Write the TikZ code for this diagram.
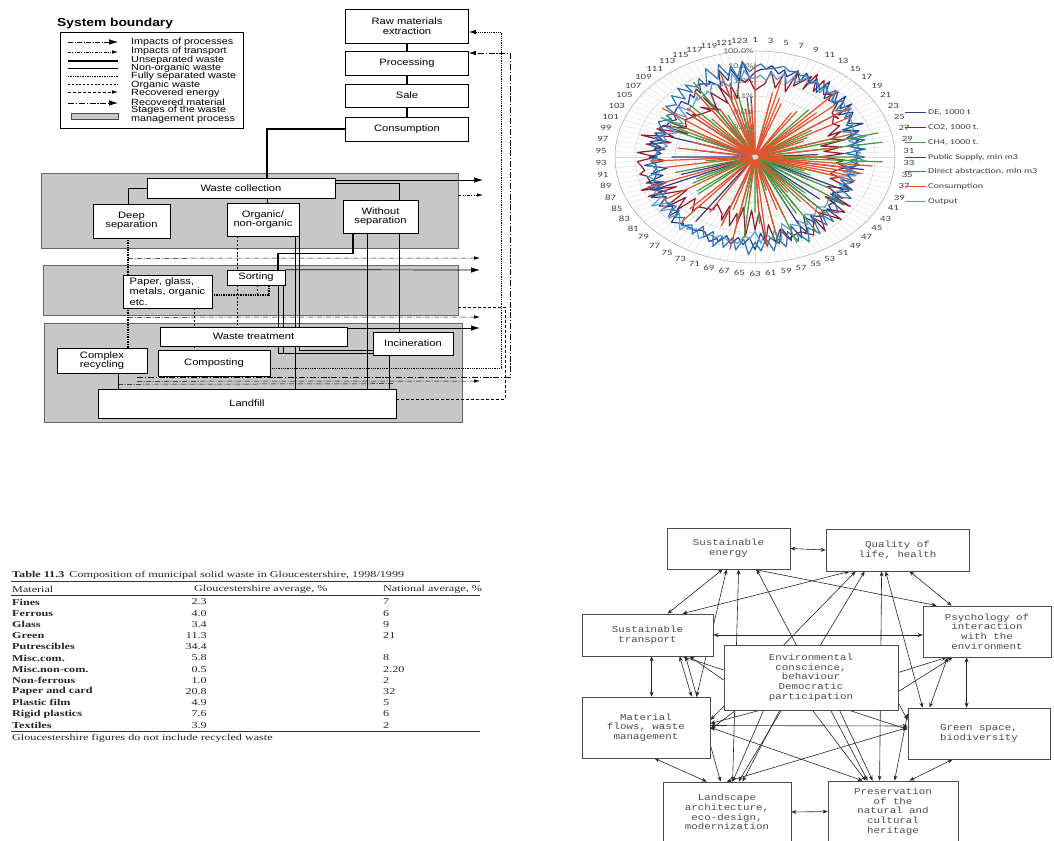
\documentclass[tikz,border=0pt]{standalone}
\usepackage{fontspec}
\usetikzlibrary{arrows.meta,calc}
\newfontfamily\sansA[FakeStretch=1.2]{Liberation Sans}
\newfontfamily\serifT[FakeStretch=1.35]{Liberation Serif}
\newfontfamily\monoM[FakeStretch=1.2]{Liberation Mono}
\newfontfamily\calib[FakeStretch=1.35]{Carlito}
\pgfdeclarelayer{bg}\pgfdeclarelayer{lines}\pgfsetlayers{bg,lines,main}
\definecolor{cDA}{RGB}{46,117,182}
\definecolor{cOut}{RGB}{91,155,213}
\definecolor{cDE}{RGB}{38,64,130}
\definecolor{cCO2}{RGB}{140,30,45}
\definecolor{cPS}{RGB}{60,58,140}
\definecolor{cCH4}{RGB}{70,155,60}
\definecolor{cCons}{RGB}{229,83,45}
\tikzset{
 wbox/.style={draw, line width=0.6pt, fill=white, inner sep=0pt, align=center, font=\sansA\fontsize{9.3}{9.5}\selectfont},
 stagebox/.style={draw=black!60, fill=black!22, line width=0.5pt, inner sep=0pt},
 legtext/.style={anchor=west, inner sep=0pt, font=\sansA\fontsize{9}{9}\selectfont},
 unsep/.style={line width=1.6pt},
 nonorg/.style={line width=0.7pt},
 fullsep/.style={line width=1.3pt, dash pattern=on 0.9pt off 0.8pt},
 orgw/.style={line width=0.6pt, dash pattern=on 2pt off 1.8pt},
 renergy/.style={line width=0.6pt, dash pattern=on 3pt off 2pt},
 rmat/.style={line width=0.7pt, dash pattern=on 6pt off 1.8pt on 1.2pt off 1.8pt},
 impproc/.style={line width=0.5pt, dash pattern=on 5pt off 1.5pt on 1pt off 1.5pt},
 imptrans/.style={line width=0.5pt, dash pattern=on 3pt off 1.3pt on 1pt off 1.3pt on 1pt off 1.3pt},
 bigtip/.style={-{Latex[length=9pt,width=5.5pt]}},
 smalltip/.style={-{Latex[length=6pt,width=3.5pt]}},
 cbox/.style={draw=black!70, line width=0.8pt, fill=white, align=center, inner sep=0pt, text=black!70, font=\monoM\fontsize{9}{9.7}\selectfont},
 biarr/.style={{Stealth[length=5pt,width=4pt]}-{Stealth[length=5pt,width=4pt]}, line width=0.6pt, black!85},
 onearr/.style={-{Stealth[length=5pt,width=4pt]}, line width=0.6pt, black!85},
 tabtext/.style={inner sep=0pt, text=black!85, font=\serifT\fontsize{9}{9}\selectfont},
 radlab/.style={inner sep=0pt, text=black!75, font=\calib\fontsize{8}{8}\selectfont},
 series/.style={line width=1.2pt, line join=round}
}
\begin{document}
\begin{tikzpicture}[x=1pt,y=-1pt]
\useasboundingbox (0,0) rectangle (1054,840);
\begin{pgfonlayer}{bg}
\fill[white] (0,0) rectangle (1054,840);
\node[stagebox, minimum width=417, minimum height=75] (st1) at (249.5,210.5) {};
\node[stagebox, minimum width=415, minimum height=50] (st2) at (250.5,290) {};
\node[stagebox, minimum width=418, minimum height=99] (st3) at (253,372.5) {};
\end{pgfonlayer}

% ---------- Panel 1: legend ----------
\node[anchor=west, inner sep=0pt, font=\sansA\bfseries\fontsize{11.5}{12}\selectfont] (sysb) at (57,24) {System boundary};
\node[draw, line width=0.6pt, minimum width=183, minimum height=96, inner sep=0pt] (leg) at (151.5,80) {};
\foreach \yy/\tt in {42/Impacts of processes, 51.5/Impacts of transport, 60/Unseparated waste, 68.5/Non-organic waste, 76.5/Fully separated waste, 85/Organic waste, 93/Recovered energy, 102.5/Recovered material, 110.5/Stages of the waste, 119.5/management process}
  \node[legtext] at (131,\yy) {\tt};
\draw[impproc, bigtip] (68,42) -- (118,42);
\draw[imptrans, smalltip] (68,52) -- (118,52);
\draw[unsep] (68,61) -- (118,61);
\draw[nonorg] (68,68) -- (118,68);
\draw[fullsep] (68,76.5) -- (118,76.5);
\draw[orgw] (68,84) -- (118,84);
\draw[renergy, smalltip] (68,92) -- (118,92);
\draw[rmat, bigtip] (68,103) -- (118,103);
\draw[fill=black!22, draw=black!70, line width=0.5pt] (71,113) rectangle (118,119);

% ---------- Panel 1: boxes ----------
\node[wbox, minimum width=123, minimum height=34] (raw) at (407,26) {Raw materials\\extraction};
\node[wbox, minimum width=123, minimum height=24] (proc) at (407,63) {Processing};
\node[wbox, minimum width=123, minimum height=23] (sale) at (407,95.5) {Sale};
\node[wbox, minimum width=123, minimum height=24] (cons) at (407,129) {Consumption};
\node[wbox, minimum width=188, minimum height=20] (wc) at (241,188) {Waste collection};
\node[wbox, minimum width=77, minimum height=34] (deep) at (131.5,221) {Deep\\separation};
\node[wbox, minimum width=72, minimum height=33] (orgn) at (263,219.5) {Organic/\\non-organic};
\node[wbox, minimum width=75, minimum height=33] (wos) at (380.5,216.5) {Without\\separation};
\node[wbox, minimum width=58, minimum height=15] (sort) at (256,277.5) {Sorting};
\node[wbox, minimum width=89, minimum height=33, align=left, font=\sansA\fontsize{9.3}{10.5}\selectfont] (paper) at (167.5,291.5) {Paper, glass,\\metals, organic\\etc.};
\node[wbox, minimum width=187, minimum height=19] (wt) at (253.5,336.5) {Waste treatment};
\node[wbox, minimum width=80, minimum height=23] (inc) at (413,343.5) {Incineration};
\node[wbox, minimum width=90, minimum height=25] (crec) at (102,360.5) {Complex\\recycling};
\node[wbox, minimum width=112, minimum height=26] (comp) at (214,363) {Composting};
\node[wbox, minimum width=298, minimum height=29] (land) at (247,403.5) {Landfill};

\coordinate (e1) at (483,180);
\coordinate (e2) at (483,195);
\coordinate (e3) at (480,258);
\coordinate (e4) at (480,270);
\coordinate (e6) at (480,317);
\coordinate (e5) at (480,328);
\coordinate (e7) at (480,381);
\coordinate (v1) at (501,32);
\coordinate (v2) at (510,53);
\coordinate (v3) at (505,307);

\begin{pgfonlayer}{lines}
\draw[unsep] (raw.south) -- (proc.north);
\draw[unsep] (proc.south) -- (sale.north);
\draw[unsep] (sale.south) -- (cons.north);
\draw[unsep] (cons.west) -| ([xshift=26]wc.north);
\draw[nonorg] ([xshift=26]wc.south) -- ([xshift=4]orgn.north);
\draw[nonorg] (wc.west) -| ([xshift=-3.5]deep.north);
\draw[nonorg] ([yshift=5]wc.east) -| ([xshift=18.5]wos.north);
\draw[unsep] ([xshift=-27.5]wos.south) -- ++(0,20) -| ([xshift=22]sort.north);
\draw[fullsep] ([xshift=-3.5]deep.south) -- ([xshift=-39.5]paper.north);
\draw[fullsep] ([xshift=-39.5]paper.south) -- ([xshift=26]crec.north);
\draw[fullsep] ([yshift=-3.5]paper.east) -| ([xshift=13]sort.south);
\draw[orgw] ([xshift=-26]orgn.south) -- ([xshift=-19]sort.north);
\draw[orgw] ([xshift=-19]sort.south) -- ([xshift=-16.5]wt.north);
\draw[orgw] ([xshift=1]sort.south) -- ([xshift=1,yshift=-10]sort.south);
\draw[orgw] ([xshift=26.5]paper.south) -- ([xshift=-59.5]wt.north);
\draw[orgw] ([xshift=-59.5]wt.south) -- ([xshift=-20]comp.north);
\draw[nonorg] ([xshift=36]orgn.south) |- ([yshift=-6.5]inc.west);
\draw[nonorg] ([xshift=27]sort.south) |- ([yshift=-9.5]inc.west);
\draw[nonorg] ([xshift=22]sort.south) |- ([yshift=-9.5]inc.west);
\draw[nonorg] ([xshift=32]orgn.south) -- ([xshift=48]land.north);
\draw[nonorg] ([xshift=-13.5]wos.south) -- ([xshift=120]land.north);
\draw[nonorg] ([xshift=18.5]wos.south) -- ([xshift=-14]inc.north);
\draw[nonorg] ([xshift=-24]inc.south) -- ([xshift=142]land.north);
\draw[nonorg] ([xshift=16]crec.south) -- ([xshift=-129]land.north);
\draw[nonorg, bigtip] ([yshift=8]wc.east) -- (e1);
\draw[imptrans, smalltip] ([yshift=15.5]st1.east) -- (e2);
\draw[impproc, smalltip] ([xshift=-3.5,yshift=-20]deep.south) -- (e3);
\draw[nonorg, bigtip] (sort.north east) -- (e4);
\draw[impproc, smalltip] ([xshift=-39.5,yshift=-9]paper.south) -- (e6);
\draw[nonorg, bigtip] ([yshift=8.5]wt.east) -- (e5);
\draw[impproc, smalltip] ([xshift=35,yshift=-8]crec.south) -- (e7);
\draw[line width=0.9pt, dash pattern=on 0.9pt off 0.9pt, -{Latex[length=7pt,width=4.5pt]}] ([yshift=-5]comp.east) -| (v1) -- ([yshift=-6]raw.east);
\draw[rmat, -{Latex[length=7pt,width=4.5pt]}] ([xshift=35,yshift=-4]crec.south) -| (v2) -- ([yshift=10]proc.east);
\draw[renergy] ([yshift=4.5]land.east) -| (v3) -- ([yshift=-17]st2.east);
\draw[impproc] ([xshift=16,yshift=-11]crec.south) -- ([xshift=146,yshift=5]land.north);
\end{pgfonlayer}

% ---------- Panel 2: radar ----------
\begin{scope}[shift={(755,157)}, x=140pt, y=106pt]
  \foreach \k in {0,...,123} \draw[black!14, line width=0.3pt] (0,0) -- ({90-\k*2.903226}:1);
  \foreach \i in {1,...,6} \draw[black!20, line width=0.4pt] (0,0) circle [x radius=\i/7, y radius=\i/7];
  \draw[black!35, line width=0.5pt] (0,0) circle [x radius=1, y radius=1];
  \foreach \k in {1,3,...,123} \node[radlab] at ({90-(\k-1)*2.903226}:1.1) {\k};
  \foreach \i/\lab in {0/{0.0\%},1/{0.0\%},2/{0.0\%},3/{0.0\%},4/{0.1\%},5/{1.0\%},6/{10.0\%},7/{100.0\%}}
    \node[radlab, anchor=east, text=black!60, font=\calib\fontsize{7.5}{8}\selectfont] at (-0.01,\i/7) {\lab};
  \pgfmathsetseed{5}
  \draw[cCO2, series] plot[variable=\t, samples=124, domain=0:123] ({90-\t*2.903226}:{0.62+0.12*sin(\t*9)+0.09*sin(mod(\t*17,36)*10)+0.12*rnd}) -- cycle;
  \draw[cDE, series] plot[variable=\t, samples=124, domain=0:123] ({90-\t*2.903226}:{0.72+0.07*sin(\t*6+40)+0.06*sin(mod(\t*35,72)*5)+0.08*rnd}) -- cycle;
  \draw[cOut, series] plot[variable=\t, samples=124, domain=0:123] ({90-\t*2.903226}:{0.7+0.08*sin(\t*6+10)+0.05*sin(mod(\t*43,90)*4)+0.08*rnd}) -- cycle;
  \draw[cDA, series] plot[variable=\t, samples=124, domain=0:123] ({90-\t*2.903226}:{0.74+0.07*sin(\t*6+70)+0.06*sin(mod(\t*89,180)*2)+0.07*rnd}) -- cycle;
  \foreach \cc/\pp/\aa/\bb in {cPS/0.8/0.4/0.4, cCH4/0.6/0.3/0.62, cCons/0.55/0.35/0.55} {
    \foreach \k in {0,...,123} {
      \pgfmathsetmacro\rr{ifthenelse(rnd<\pp,0,\aa+\bb*rnd)}
      \ifdim\rr pt>0pt
        \draw[\cc, series] ({90-(\k-0.5)*2.903226}:0.03) -- ({90-\k*2.903226}:\rr) -- ({90-(\k+0.5)*2.903226}:0.03);
      \fi
    }
  }
  \draw[cCons, line width=1pt] (0,0) circle [x radius=0.03, y radius=0.03];
\end{scope}
\foreach \c/\tt [count=\i from 0] in {cDE/{DE, 1000 t}, cCO2/{CO2, 1000 t.}, cCH4/{CH4, 1000 t.}, cPS/{Public Supply, mln m3}, cDA/{Direct abstraction, mln m3}, cCons/{Consumption}, cOut/{Output}} {
  \draw[\c, line width=1pt] (905,113+14.7*\i) -- (926,113+14.7*\i);
  \node[radlab, anchor=west, font=\calib\fontsize{7.5}{8}\selectfont] at (928,113+14.7*\i) {\tt};
}

% ---------- Panel 3: table ----------
\node[tabtext, anchor=west] (ttl) at (12,575) {\textbf{Table 11.3}\hspace{5pt}Composition of municipal solid waste in Gloucestershire, 1998/1999};
\draw[black!80, line width=0.6pt] (11,581) -- (480,581);
\node[tabtext, anchor=west] (h1) at (12,589) {Material};
\node[tabtext, anchor=west] (h2) at (194,589) {Gloucestershire average, \%};
\node[tabtext, anchor=west] (h3) at (383,589) {National average, \%};
\draw[black!80, line width=1pt] (11,595) -- (480,595);
\foreach \m/\g/\n [count=\i from 0] in {Fines/2.3/7, Ferrous/4.0/6, Glass/3.4/9, Green/11.3/21, Putrescibles/34.4/{}, Misc.com./5.8/8, Misc.non-com./0.5/2.20, Non-ferrous/1.0/2, Paper and card/20.8/32, Plastic film/4.9/5, Rigid plastics/7.6/6, Textiles/3.9/2} {
  \node[tabtext, anchor=west] at (12,602+11.2*\i) {\textbf{\m}};
  \node[tabtext, anchor=east] at (207,602+11.2*\i) {\g};
  \node[tabtext, anchor=west] at (383,602+11.2*\i) {\n};
}
\draw[black!80, line width=1pt] (11,731) -- (480,731);
\node[tabtext, anchor=west] (fn) at (12,738) {Gloucestershire figures do not include recycled waste};

% ---------- Panel 4: concept map ----------
\node[cbox, minimum width=123, minimum height=41] (SE) at (728.5,548.5) {Sustainable\\energy};
\node[cbox, minimum width=143, minimum height=42] (QL) at (897.5,550) {Quality of\\life, health};
\node[cbox, minimum width=128, minimum height=51] (PS) at (987,631.5) {Psychology of\\interaction\\with the\\environment};
\node[cbox, minimum width=131, minimum height=42] (ST) at (647.5,635) {Sustainable\\transport};
\node[cbox, minimum width=174, minimum height=65] (EC) at (811,677.5) {Environmental\\conscience,\\behaviour\\Democratic\\participation};
\node[cbox, minimum width=128, minimum height=61] (MF) at (646,727.5) {Material\\flows, waste\\management};
\node[cbox, minimum width=142, minimum height=51] (GS) at (979,733.5) {Green space,\\biodiversity};
\node[cbox, minimum width=128, minimum height=60] (LA) at (727,812) {Landscape\\architecture,\\eco-design,\\modernization};
\node[cbox, minimum width=130, minimum height=61] (PR) at (893,811.5) {Preservation\\of the\\natural and\\cultural\\heritage};

\begin{pgfonlayer}{lines}
\draw[biarr] (SE.east) -- (QL.west);
\draw[biarr] ([xshift=56]SE.south west) -- ([xshift=86]ST.north west);
\draw[biarr] ([xshift=60]SE.south west) -- ([xshift=115]MF.north west);
\draw[biarr] ([xshift=24]QL.south west) -- ([xshift=101]ST.north west);
\draw[biarr] ([xshift=72]SE.south west) -- ([xshift=70]LA.north west);
\draw[biarr] ([xshift=88]SE.south west) -- ([xshift=14]PS.north west);
\draw[biarr] ([xshift=90]SE.south west) -- ([xshift=40]PR.north west);
\draw[biarr] ([xshift=39]QL.south west) -- ([xshift=76]LA.north west);
\draw[biarr] ([xshift=30]QL.south west) -- ([yshift=7.5]MF.east);
\draw[biarr] ([xshift=56]QL.south west) -- ([xshift=52]PR.north west);
\draw[biarr] ([xshift=60]QL.south west) -- ([xshift=15]GS.north west);
\draw[biarr] ([xshift=84]QL.south west) -- ([xshift=29]PS.north west);
\draw[biarr] (ST.east) -- (ST.east -| PS.west);
\draw[biarr] ([xshift=70]ST.south west) -- ([xshift=70]MF.north west);
\draw[biarr] ([xshift=44]PS.south west) -- ([xshift=59]GS.north west);
\draw[biarr] ([xshift=73]MF.south west) -- ([xshift=44]LA.north west);
\draw[biarr] ([xshift=45]GS.south west) -- ([xshift=82]PR.north west);
\draw[biarr] (LA.east) -- (PR.west);
\draw[biarr] ([yshift=2]MF.east) -- ([yshift=7.5]GS.west);
\draw[biarr] (MF.east) -- ([xshift=35]PR.north west);
\draw[biarr] ([yshift=6]GS.west) -- ([xshift=64]LA.north west);
\draw[biarr] ([xshift=110]MF.north west) -- ([xshift=98]ST.south west);
\draw[biarr] ([xshift=104]ST.south west) -- ([xshift=58]LA.north west);
\draw[biarr] ([xshift=22]GS.north west) -- ([xshift=25]PS.south west);
\draw[biarr] ([yshift=20]GS.west) -- ([xshift=67]PR.north west);
\draw[onearr] ([yshift=7.5]EC.west) -- ([xshift=101]ST.south west);
\draw[onearr] ([yshift=-2.5]EC.west) -- ([xshift=108]ST.south west);
\draw[onearr] ([yshift=5]EC.east) -- ([xshift=24]PS.south west);
\draw[onearr] ([yshift=-14]EC.east) -- ([xshift=30]PS.south west);
\draw[onearr] ([xshift=36]EC.south west) -- ([yshift=4]MF.east);
\draw[onearr] ([xshift=12]EC.south west) -- ([yshift=-2]MF.east);
\draw[onearr] ([xshift=40]EC.south west) -- ([xshift=70]LA.north west);
\draw[onearr] ([xshift=56]EC.south west) -- ([xshift=80]LA.north west);
\draw[onearr] ([xshift=89]EC.south west) -- ([xshift=38]PR.north west);
\draw[onearr] ([xshift=116]EC.south west) -- ([xshift=45]PR.north west);
\draw[onearr] ([yshift=-25.5]EC.east) -- ([yshift=13.5]GS.west);
\draw[onearr] ([xshift=126]EC.south west) -- ([yshift=4]GS.west);
\end{pgfonlayer}
\end{tikzpicture}
\end{document}
